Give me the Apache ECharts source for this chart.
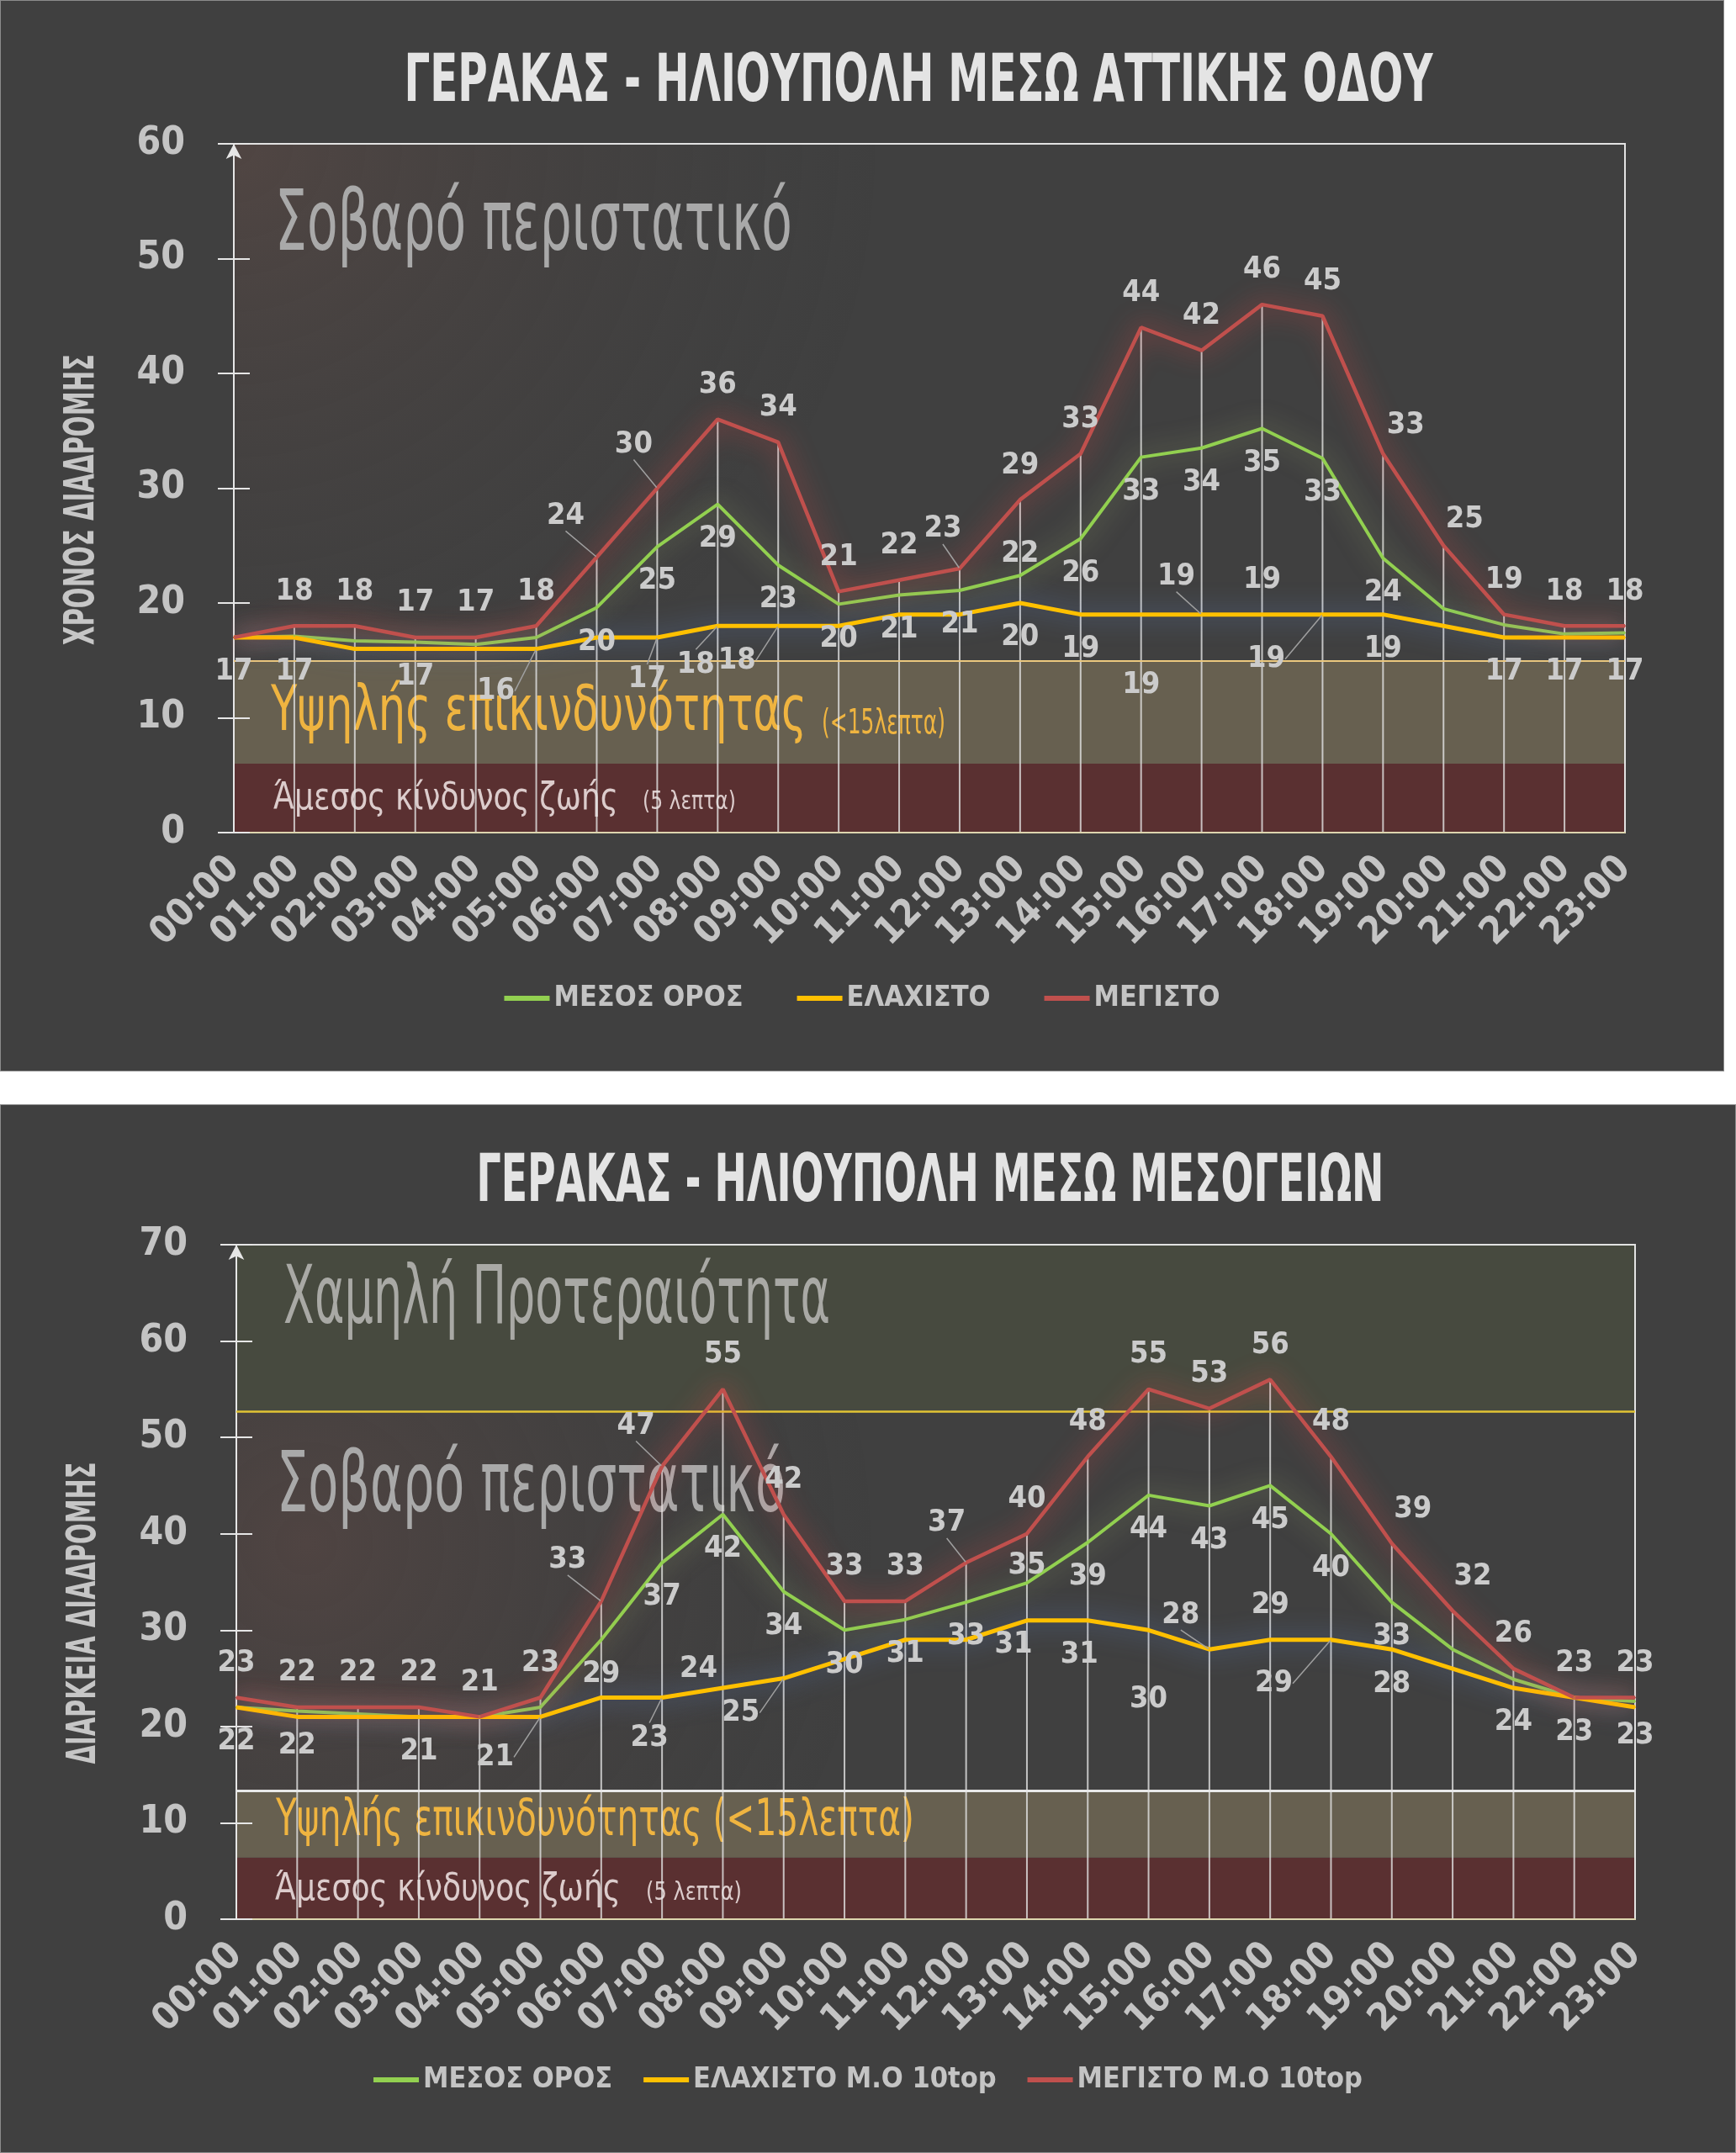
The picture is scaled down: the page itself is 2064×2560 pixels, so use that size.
<!DOCTYPE html>
<html>
<head>
<meta charset="utf-8">
<title>ΓΕΡΑΚΑΣ - ΗΛΙΟΥΠΟΛΗ</title>
<script src="https://cdn.jsdelivr.net/npm/echarts@6/dist/echarts.min.js"></script>
<style>
    html, body { margin: 0; padding: 0; background: #fff; }
    .panel { position: absolute; left: 0; background: #404040; box-sizing: border-box; border: 1px solid #8c8c8c; }
    #chart1 { top: 0; width: 2050px; height: 1274px; }
    #chart2 { top: 1313px; width: 2064px; height: 1247px; }
</style>
</head>
<body>
<div id="chart1" class="panel"></div>
<div id="chart2" class="panel"></div>
<script>
    const hours = ['00:00', '01:00', '02:00', '03:00', '04:00', '05:00', '06:00', '07:00', '08:00', '09:00', '10:00', '11:00',
        '12:00', '13:00', '14:00', '15:00', '16:00', '17:00', '18:00', '19:00', '20:00', '21:00', '22:00', '23:00'];

    // ΓΕΡΑΚΑΣ - ΗΛΙΟΥΠΟΛΗ ΜΕΣΩ ΑΤΤΙΚΗΣ ΟΔΟΥ
    const attikiAvg = [17, 17.1, 16.7, 16.6, 16.4, 17, 19.6, 24.9, 28.6, 23.3, 19.9, 20.7, 21.1, 22.4, 25.6, 32.7, 33.5, 35.2, 32.6, 23.9, 19.5, 18.1, 17.3, 17.4];
    const attikiMin = [17, 17, 16, 16, 16, 16, 17, 17, 18, 18, 18, 19, 19, 20, 19, 19, 19, 19, 19, 19, 18, 17, 17, 17];
    const attikiMax = [17, 18, 18, 17, 17, 18, 24, 30, 36, 34, 21, 22, 23, 29, 33, 44, 42, 46, 45, 33, 25, 19, 18, 18];
    const attikiTicks = [0, 10, 20, 30, 40, 50, 60];

    // ΓΕΡΑΚΑΣ - ΗΛΙΟΥΠΟΛΗ ΜΕΣΩ ΜΕΣΟΓΕΙΩΝ
    const mesoAvg = [22, 21.6, 21.3, 21, 21, 22, 29, 37, 42, 34, 30, 31.1, 32.9, 34.9, 39.1, 44, 42.9, 45, 40, 32.9, 28, 24.9, 23, 22.6];
    const mesoMin = [22, 21, 21, 21, 21, 21, 23, 23, 24, 25, 27, 29, 29, 31, 31, 30, 28, 29, 29, 28, 26, 24, 23, 22];
    const mesoMax = [23, 22, 22, 22, 21, 23, 33, 47, 55, 42, 33, 33, 37, 40, 48, 55, 53, 56, 48, 39, 32, 26, 23, 23];
    const mesoTicks = [0, 10, 20, 30, 40, 50, 60, 70];

    // ζώνες (λεπτά)
    const attikiZones = {danger: 6, high: 15};
    const mesoZones = {danger: 6.4, high: 13.35, low: 52.7};

    const FONT = "'DejaVu Sans Condensed', 'Liberation Sans Narrow', 'DejaVu Sans', sans-serif";
    const GREEN = '#92d050', YELLOW = '#ffc000', RED = '#c0504d';
    const LABEL = '#cbcbcb';

    const range = (a, b) => Array.from({length: b - a + 1}, (_, i) => a + i);

    // which labels are shown and where they sit (like the original excel chart)
    const attikiMaxLbl = {show: range(1, 23), pos: 'top', moves: {6: [-37, -8], 7: [-28, -11], 12: [-20, -6], 19: [27, 7], 20: [25, 10]}, leader: [6, 7, 12]};
    const attikiAvgLbl = {show: [3].concat(range(6, 19)), pos: 'bottom', top: [13], moves: {13: [0, 15]}, leader: []};
    const attikiMinLbl = {show: [0, 1, 5, 7, 8, 9, 13, 14, 15, 16, 17, 18, 19, 21, 22, 23], pos: 'bottom', top: [16, 17],
        moves: {5: [-48, 9], 7: [-12, 9], 8: [-26, 5], 9: [-49, 0], 15: [0, 43], 16: [-30, -4], 18: [-67, 12]}, leader: [5, 7, 8, 9, 16, 18]};

    const mesoMaxLbl = {show: 'all', pos: 'top', moves: {6: [-40, -8], 7: [-31, -7], 12: [-23, -6], 19: [25, 0], 20: [24, 0]}, leader: [6, 7, 12]};
    const mesoAvgLbl = {show: [0, 1, 3].concat(range(6, 19), [22, 23]), pos: 'bottom', top: [13], moves: {13: [0, 20]}, leader: []};
    const mesoMinLbl = {show: [5, 7, 8, 9, 13, 14, 15, 16, 17, 18, 19, 21], pos: 'bottom', top: [8, 16, 17],
        moves: {5: [-54, 7], 7: [-15, 7], 8: [-29, 19], 9: [-51, 0], 13: [-16, -12], 14: [-10, 0], 15: [0, 41], 16: [-34, 0], 18: [-68, 11]},
        leader: [5, 7, 9, 16, 18]};

    const measureCtx = document.createElement('canvas').getContext('2d');

    // text squeezed to a given width (the original uses a condensed font)
    function fitText(text, x, y, size, weight, width, color, align, rotate, z) {
        const font = weight + ' ' + size + 'px ' + FONT;
        measureCtx.font = font;
        const w = measureCtx.measureText(text).width;
        return {
            type: 'text', x: x, y: y, rotation: rotate || 0, scaleX: width / w, z: z || 2, silent: true,
            style: {text: text, font: font, fill: color, align: align || 'left', verticalAlign: 'middle'}
        };
    }

    function lineSeries(name, values, color, glow, width, lbl) {
        const data = values.map((v, i) => {
            const item = {value: v, label: {show: lbl.show === 'all' || lbl.show.indexOf(i) >= 0}};
            if (lbl.top && lbl.top.indexOf(i) >= 0) item.label.position = 'top';
            if (lbl.leader.indexOf(i) >= 0) item.labelLine = {show: true};
            return item;
        });
        return {
            name: name, type: 'line', data: data, z: 6,
            symbol: 'circle', symbolSize: 2, showSymbol: true,
            itemStyle: {color: color},
            lineStyle: {color: color, width: width, shadowColor: glow, shadowBlur: 30},
            label: {
                show: true, position: lbl.pos, distance: 22,
                formatter: p => Math.round(p.value),
                color: LABEL, fontFamily: FONT, fontWeight: 'bold', fontSize: 36
            },
            labelLine: {show: false, lineStyle: {color: '#a0a0a0', width: 1.5}},
            labelLayout: p => {
                const m = lbl.moves && lbl.moves[p.dataIndex];
                return m ? {dx: m[0], dy: m[1]} : {};
            },
            emphasis: {disabled: true},
            animation: false
        };
    }

    function buildOption(c) {
        const yMax = c.ticks[c.ticks.length - 1];
        const yInterval = c.ticks[1] - c.ticks[0];
        const axisFont = {color: '#c4c4c4', fontFamily: FONT, fontWeight: 'bold'};
        return {
            animation: false,
            grid: {left: c.grid[0], top: c.grid[1], width: c.grid[2], height: c.grid[3], show: true,
                borderColor: '#e2e2e2', borderWidth: 2, backgroundColor: 'transparent', z: 4},
            legend: {
                left: 'center', top: c.legendTop, icon: 'rect', itemWidth: 54, itemHeight: 6, itemGap: c.legendGap,
                selectedMode: false, data: c.names,
                textStyle: Object.assign({fontSize: 34}, axisFont)
            },
            xAxis: {
                type: 'category', data: hours, boundaryGap: false, z: 4,
                axisLine: {lineStyle: {color: '#ddd5ae', width: 2}},
                axisTick: {show: false},
                axisLabel: Object.assign({interval: 0, rotate: 45, margin: 36, fontSize: 45}, axisFont),
                splitLine: {show: false}
            },
            yAxis: [{
                type: 'value', min: c.ticks[0], max: yMax, interval: yInterval, z: 4,
                axisLine: {show: true, symbol: ['none', 'arrow'], symbolSize: [14, 18],
                    lineStyle: {color: '#e6e6e6', width: 2}},
                axisTick: {show: true, length: 19, lineStyle: {color: '#e6e6e6', width: 2}},
                axisLabel: Object.assign({margin: 58, fontSize: 46}, axisFont),
                splitLine: {show: false}
            }, {
                type: 'value', min: c.ticks[0], max: yMax, interval: yInterval, position: 'left', z: 4,
                axisLine: {show: false},
                axisTick: {show: true, inside: true, length: 19, lineStyle: {color: '#e6e6e6', width: 2}},
                axisLabel: {show: false},
                splitLine: {show: false}
            }],
            graphic: {elements: c.texts},
            series: [
                {
                    // vertical drop lines from the maximum down to the axis
                    type: 'bar', data: c.max, barWidth: 2, z: 3, silent: true,
                    itemStyle: {color: 'rgba(228,228,228,0.8)'},
                    markArea: {silent: true, data: c.areas},
                    markLine: {silent: true, symbol: 'none', label: {show: false}, data: c.lines}
                },
                lineSeries(c.names[0], c.avg, GREEN, 'rgba(205,225,140,0.55)', 4, c.lbl[0]),
                lineSeries(c.names[1], c.min, YELLOW, 'rgba(100,140,215,0.75)', 5, c.lbl[1]),
                lineSeries(c.names[2], c.max, RED, 'rgba(255,70,70,0.8)', 4.5, c.lbl[2])
            ]
        };
    }

    const glow = (x, y, r, col) => ({type: 'radial', x: x, y: y, r: r,
        colorStops: [{offset: 0, color: col}, {offset: 1, color: 'rgba(64,64,64,0)'}]});

    const chart1 = echarts.init(document.getElementById('chart1'));
    chart1.setOption(buildOption({
        grid: [277, 170, 1654, 819],
        legendTop: 1164, legendGap: 64,
        ticks: attikiTicks,
        names: ['ΜΕΣΟΣ ΟΡΟΣ', 'ΕΛΑΧΙΣΤΟ', 'ΜΕΓΙΣΤΟ'],
        avg: attikiAvg, min: attikiMin, max: attikiMax,
        lbl: [attikiAvgLbl, attikiMinLbl, attikiMaxLbl],
        areas: [
            [{yAxis: 0, itemStyle: {color: '#5a3031'}}, {yAxis: attikiZones.danger}],
            [{yAxis: attikiZones.danger, itemStyle: {color: '#676050'}}, {yAxis: attikiZones.high}],
            [{yAxis: attikiZones.high, itemStyle: {color: glow(0, 0, 1.25, 'rgba(125,85,75,0.28)')}}, {yAxis: 60}]
        ],
        lines: [{yAxis: attikiZones.high, lineStyle: {color: '#ebc87e', width: 2, type: 'solid'}}],
        texts: [
            fitText('ΓΕΡΑΚΑΣ - ΗΛΙΟΥΠΟΛΗ ΜΕΣΩ ΑΤΤΙΚΗΣ ΟΔΟΥ', 1091, 99, 78, 'bold', 1223, '#e4e4e4', 'center', 0, 10),
            fitText('ΧΡΟΝΟΣ ΔΙΑΔΡΟΜΗΣ', 97, 593, 50, 'bold', 346, '#c6c6c6', 'center', Math.PI / 2, 10),
            fitText('Σοβαρό περιστατικό', 326, 270, 100, 'normal', 615, '#a9a9a9'),
            fitText('Υψηλής επικινδυνότητας', 321, 848, 75, 'normal', 637, '#efb440'),
            fitText('(<15λεπτα)', 976, 861, 40, 'normal', 147, '#efb440'),
            fitText('Άμεσος κίνδυνος ζωής', 324, 950, 44, 'normal', 410, '#dccccc'),
            fitText('(5 λεπτα)', 763, 953, 30, 'normal', 111, '#dccccc')
        ]
    }));

    const chart2 = echarts.init(document.getElementById('chart2'));
    chart2.setOption(buildOption({
        grid: [280, 166, 1663, 802],
        legendTop: 1137, legendGap: 37,
        ticks: mesoTicks,
        names: ['ΜΕΣΟΣ ΟΡΟΣ', 'ΕΛΑΧΙΣΤΟ Μ.Ο 10top', 'ΜΕΓΙΣΤΟ Μ.Ο 10top'],
        avg: mesoAvg, min: mesoMin, max: mesoMax,
        lbl: [mesoAvgLbl, mesoMinLbl, mesoMaxLbl],
        areas: [
            [{yAxis: 0, itemStyle: {color: '#5a3031'}}, {yAxis: mesoZones.danger}],
            [{yAxis: mesoZones.danger, itemStyle: {color: '#676050'}}, {yAxis: mesoZones.high}],
            [{yAxis: mesoZones.high, itemStyle: {color: glow(0.05, 0.35, 1.5, 'rgba(125,80,72,0.25)')}}, {yAxis: mesoZones.low}],
            [{yAxis: mesoZones.low, itemStyle: {color: 'rgba(88,98,62,0.3)'}}, {yAxis: 70}]
        ],
        lines: [
            {yAxis: mesoZones.high, lineStyle: {color: '#e8e8e8', width: 3, type: 'solid'}},
            {yAxis: mesoZones.low, lineStyle: {color: '#e2c434', width: 2.5, type: 'solid'}}
        ],
        texts: [
            fitText('ΓΕΡΑΚΑΣ - ΗΛΙΟΥΠΟΛΗ ΜΕΣΩ ΜΕΣΟΓΕΙΩΝ', 1105, 94, 78, 'bold', 1079, '#e4e4e4', 'center', 0, 10),
            fitText('ΔΙΑΡΚΕΙΑ ΔΙΑΔΡΟΜΗΣ', 100, 604, 48, 'bold', 359, '#c6c6c6', 'center', Math.PI / 2, 10),
            fitText('Χαμηλή Προτεραιότητα', 336, 234, 96, 'normal', 650, '#a9a9a5'),
            fitText('Σοβαρό περιστατικό', 328, 457, 100, 'normal', 605, '#a9a9a9'),
            fitText('Υψηλής επικινδυνότητας (<15λεπτα)', 327, 852, 60, 'normal', 759, '#efb440'),
            fitText('Άμεσος κίνδυνος ζωής', 326, 934, 44, 'normal', 411, '#dccccc'),
            fitText('(5 λεπτα)', 767, 937, 30, 'normal', 114, '#dccccc')
        ]
    }));
</script>
</body>
</html>
